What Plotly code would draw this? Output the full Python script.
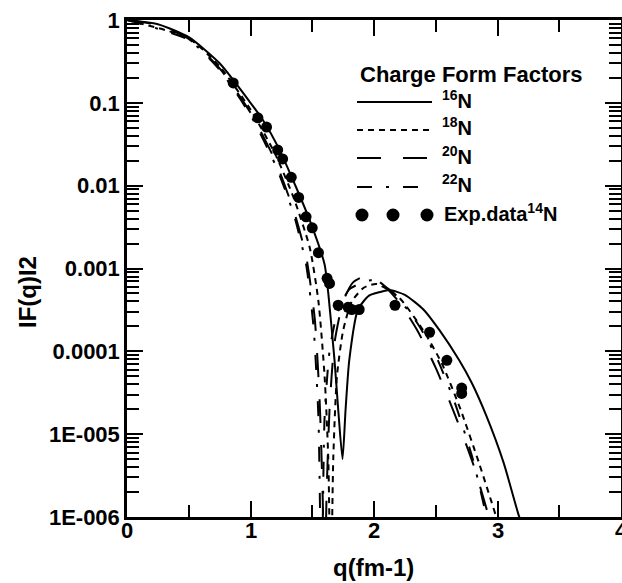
import plotly.graph_objects as go

# charge form factors |F(q)|^2
q_16n = [0.0, 0.25, 0.5, 0.75, 1.0, 1.1, 1.22, 1.37, 1.48, 1.6, 1.63, 1.68, 1.71, 1.745,
         1.77, 1.8, 1.87, 1.96, 2.05, 2.125, 2.25, 2.4, 2.53, 2.69, 2.79, 2.91, 3.05, 3.17, 3.2]
f_16n = [1.0, 0.89, 0.62, 0.30, 0.10, 0.062, 0.030, 9.5e-3, 3.8e-3, 1.12e-3, 5.0e-4, 7.9e-5,
         2.0e-5, 5.0e-6, 2.0e-5, 7.9e-5, 3.2e-4, 4.7e-4, 5.2e-4, 5.5e-4, 4.8e-4, 3.2e-4,
         1.8e-4, 7.8e-5, 4.2e-5, 1.66e-5, 4.5e-6, 1.07e-6, 8.0e-7]

q_18n = [0.0, 0.5, 0.75, 1.0, 1.2, 1.35, 1.48, 1.55, 1.6, 1.63, 1.65, 1.67, 1.7, 1.75,
         1.82, 1.92, 2.02, 2.2, 2.4, 2.55, 2.7, 2.85, 3.0, 3.03]
f_18n = [1.0, 0.60, 0.275, 0.083, 0.024, 7.1e-3, 1.78e-3, 4.0e-4, 5.0e-5, 5.0e-6, 1.0e-7,
         5.0e-6, 5.0e-5, 1.78e-4, 4.0e-4, 5.9e-4, 6.5e-4, 4.5e-4, 1.78e-4, 7.1e-5, 2.0e-5,
         4.5e-6, 8.9e-7, 6.0e-7]

q_20n = [0.0, 0.25, 0.5, 0.75, 1.0, 1.2, 1.35, 1.45, 1.52, 1.56, 1.585, 1.6, 1.615, 1.64,
         1.68, 1.75, 1.83, 1.93, 2.05, 2.2, 2.35, 2.5, 2.65, 2.8, 2.94, 2.97]
f_20n = [1.0, 0.87, 0.59, 0.26, 0.076, 0.020, 5.0e-3, 1.41e-3, 2.5e-4, 2.5e-5, 1.6e-6, 1.0e-7,
         1.6e-6, 2.0e-5, 1.26e-4, 4.0e-4, 6.8e-4, 8.1e-4, 6.8e-4, 4.0e-4, 1.8e-4, 6.3e-5,
         1.8e-5, 4.5e-6, 8.9e-7, 6.0e-7]

q_22n = [0.0, 0.5, 0.75, 1.0, 1.2, 1.35, 1.45, 1.51, 1.55, 1.575, 1.6, 1.64, 1.7, 1.8,
         1.98, 2.15, 2.35, 2.5, 2.65, 2.8, 2.92, 2.95]
f_22n = [1.0, 0.575, 0.25, 0.071, 0.018, 4.5e-3, 1.12e-3, 2.0e-4, 1.6e-5, 1.0e-7, 1.6e-5,
         1.0e-4, 2.8e-4, 5.6e-4, 7.2e-4, 5.2e-4, 2.2e-4, 8.9e-5, 2.5e-5, 5.0e-6, 8.9e-7, 6.0e-7]

# experimental data for 14N
q_exp = [0.86, 1.06, 1.13, 1.22, 1.26, 1.33, 1.39, 1.45, 1.50, 1.55, 1.62, 1.64, 1.71,
         1.79, 1.82, 1.88, 2.17, 2.45, 2.59, 2.71, 2.71]
f_exp = [0.174, 0.066, 0.051, 0.027, 0.021, 0.0126, 7.2e-3, 4.2e-3, 3.1e-3, 1.55e-3, 7.6e-4,
         6.6e-4, 3.6e-4, 3.4e-4, 3.2e-4, 3.2e-4, 3.6e-4, 1.7e-4, 7.8e-5, 3.6e-5, 3.1e-5]

y_tickvals = [1e-6, 1e-5, 1e-4, 1e-3, 1e-2, 1e-1, 1]
y_ticktext = ["1E-006", "1E-005", "0.0001", "0.001", "0.01", "0.1", "1"]
y_minor = [m * d for d in [1e-6, 1e-5, 1e-4, 1e-3, 1e-2, 1e-1] for m in range(2, 10)]
x_tickvals = [0, 1, 2, 3, 4]
x_ticktext = ["0", "1", "2", "3", "4"]
x_minor = [0.5, 1.5, 2.5, 3.5]

curves = [
    ("<sup>16</sup>N", q_16n, f_16n, "solid"),
    ("<sup>18</sup>N", q_18n, f_18n, "6px,5px"),
    ("<sup>20</sup>N", q_20n, f_20n, "24px,22px"),
    ("<sup>22</sup>N", q_22n, f_22n, "15px,14px,3px,14px"),
]

FONT = "Liberation Sans, Arial, sans-serif"


def bold(size):
    return dict(family=FONT, size=size, color="black", weight="bold")


fig = go.Figure()
for name, qq, ff, dash in curves:
    fig.add_trace(go.Scatter(x=qq, y=ff, mode="lines", name=name, showlegend=False,
                             line=dict(color="black", width=2, dash=dash,
                                       shape="spline", smoothing=0.6)))
fig.add_trace(go.Scatter(x=q_exp, y=f_exp, mode="markers", name="Exp.data", showlegend=False,
                         marker=dict(color="black", size=11)))

# hand-drawn legend (paper coordinates)
L_X0, L_X1, TXT_X = 0.4656, 0.6174, 0.6336
row_y = [0.835, 0.7787, 0.7223, 0.664]
fig.add_annotation(x=0.4676, y=0.8913, xref="paper", yref="paper", xanchor="left",
                   yanchor="middle", text="Charge Form Factors", showarrow=False, font=bold(22))
for (name, _, _, dash), ry in zip(curves, row_y):
    fig.add_shape(type="line", xref="paper", yref="paper", x0=L_X0, x1=L_X1, y0=ry, y1=ry,
                  line=dict(color="black", width=2, dash=dash))
    fig.add_annotation(x=TXT_X, y=ry, xref="paper", yref="paper", xanchor="left",
                       yanchor="middle", text=name, showarrow=False, yshift=3, font=bold(20))
exp_y = 0.6076
for cx in [0.4757, 0.5385, 0.6073]:
    fig.add_shape(type="circle", xref="paper", yref="paper", xsizemode="pixel",
                  ysizemode="pixel", xanchor=cx, yanchor=exp_y, x0=-6.5, x1=6.5, y0=-6.5, y1=6.5,
                  fillcolor="black", line=dict(color="black", width=0))
fig.add_annotation(x=0.638, y=exp_y, xref="paper", yref="paper", xanchor="left",
                   yanchor="middle", text="Exp.data<sup>14</sup>N", showarrow=False, yshift=3,
                   font=bold(20))

# x tick labels and axis titles
for xv, xt in zip(x_tickvals, x_ticktext):
    fig.add_annotation(x=xv, y=-0.0262, xref="x", yref="paper", xanchor="center",
                       yanchor="middle", text=xt, showarrow=False, font=bold(22))
fig.add_annotation(x=0.4980, y=-0.1026, xref="paper", yref="paper", text="q(fm-1)",
                   xanchor="center", yanchor="middle", showarrow=False, font=bold(24))
fig.add_annotation(x=-0.2024, y=0.4527, xref="paper", yref="paper", text="IF(q)I2",
                   xanchor="center", yanchor="middle", showarrow=False, textangle=-90,
                   font=bold(24))

axis_common = dict(showline=True, linecolor="black", linewidth=2.5, mirror="ticks",
                   ticks="inside", tickcolor="black", tickwidth=2, ticklen=16,
                   showgrid=False, zeroline=False, automargin=False,
                   ticklabeloverflow="allow", tickfont=bold(22))

fig.update_xaxes(range=[0, 4], tickmode="array", tickvals=x_tickvals, showticklabels=False,
                 minor=dict(ticks="inside", ticklen=12, tickwidth=2, tickcolor="black",
                            tickmode="array", tickvals=x_minor, showgrid=False),
                 **axis_common)
fig.update_yaxes(type="log", range=[-6, 0], tickmode="array", tickvals=y_tickvals,
                 ticktext=y_ticktext,
                 minor=dict(ticks="inside", ticklen=12, tickwidth=2, tickcolor="black",
                            tickmode="array", tickvals=y_minor, showgrid=False),
                 **axis_common)

fig.update_layout(width=622, height=583, plot_bgcolor="white", paper_bgcolor="white",
                  margin=dict(l=127, r=1, t=20, b=66), showlegend=False)

# drop the default 8px body margin so the figure fills the window exactly
fig.write_html("out.html", config={"displayModeBar": False},
               post_script="document.body.style.margin='0px';")
